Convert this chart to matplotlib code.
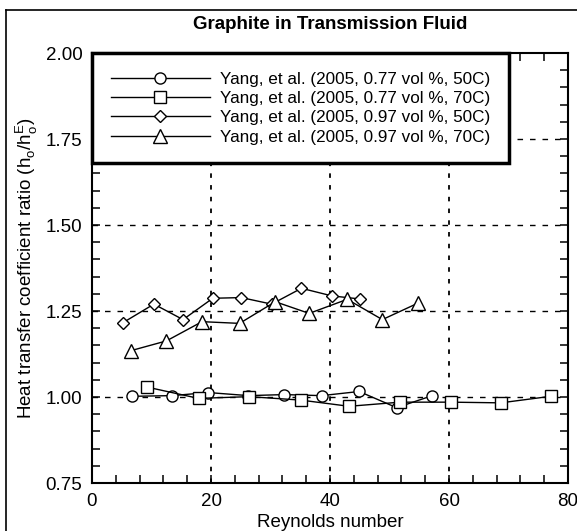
import numpy as np
import matplotlib.pyplot as plt
from matplotlib.lines import Line2D
from matplotlib.ticker import MultipleLocator

plt.rcParams['font.family'] = ['Liberation Sans', 'DejaVu Sans']

# Yang et al. (2005), graphite nanofluid data
re_050_50 = [6.7, 13.5, 19.5, 26.3, 32.3, 38.6, 44.9, 51.2, 57.2]
h_050_50 = [1.002, 1.004, 1.013, 1.004, 1.007, 1.004, 1.016, 0.969, 1.004]

re_077_70 = [9.2, 17.9, 26.4, 35.1, 43.2, 51.8, 60.3, 68.7, 77.1]
h_077_70 = [1.029, 0.996, 1.001, 0.991, 0.973, 0.985, 0.985, 0.983, 1.002]

re_097_50 = [5.2, 10.4, 15.3, 20.3, 25.1, 30.2, 35.2, 40.3, 45.0]
h_097_50 = [1.216, 1.270, 1.225, 1.287, 1.289, 1.270, 1.316, 1.294, 1.285]

re_097_70 = [6.6, 12.5, 18.5, 24.8, 30.8, 36.5, 42.9, 48.8, 54.8]
h_097_70 = [1.135, 1.163, 1.219, 1.214, 1.277, 1.243, 1.284, 1.225, 1.273]

labels = ["Yang, et al. (2005, 0.77 vol %, 50C)",
          "Yang, et al. (2005, 0.77 vol %, 70C)",
          "Yang, et al. (2005, 0.97 vol %, 50C)",
          "Yang, et al. (2005, 0.97 vol %, 70C)"]

fig = plt.figure(figsize=(5.77, 5.31), dpi=100)
ax = fig.add_axes([92/577, 1 - 483/531, 476/577, 430/531])

# frame around the whole figure
fig.add_artist(Line2D([6/577, 6/577], [0, 1 - 10/531], color='black', lw=1.2, transform=fig.transFigure))
fig.add_artist(Line2D([6/577, 1], [1 - 10/531, 1 - 10/531], color='black', lw=1.2, transform=fig.transFigure))

ax.set_xlim(0, 80)
ax.set_ylim(0.75, 2.00)
ax.xaxis.set_major_locator(MultipleLocator(20))
ax.xaxis.set_minor_locator(MultipleLocator(4))
ax.yaxis.set_major_locator(MultipleLocator(0.25))
ax.yaxis.set_minor_locator(MultipleLocator(0.05))
ax.yaxis.set_major_formatter(plt.FormatStrFormatter('%.2f'))
ax.tick_params(which='both', direction='in', top=True, right=True, length=6, width=1.1, labelsize=13.5, pad=7)
for s in ax.spines.values():
    s.set_linewidth(1.5)

for x in [20, 40, 60]:
    ax.axvline(x, color='black', lw=1.3, ls=(0, (2.5, 4)), zorder=1)
for y in [1.00, 1.25, 1.50, 1.75]:
    ax.axhline(y, color='black', lw=1.0, ls=(0, (4, 5)), zorder=1)

style = dict(color='black', lw=1.0, mfc='white', mec='black', mew=1.0, zorder=3)
l1, = ax.plot(re_050_50, h_050_50, marker='o', ms=8, **style)
l2, = ax.plot(re_077_70, h_077_70, marker='s', ms=8, **style)
l3, = ax.plot(re_097_50, h_097_50, marker='D', ms=6.5, **style)
l4, = ax.plot(re_097_70, h_097_70, marker='^', ms=9.5, **style)

leg = ax.legend([l1, l2, l3, l4], labels, loc='upper left', bbox_to_anchor=(0, 1),
                borderaxespad=0, fancybox=False, edgecolor='black', framealpha=1,
                fontsize=12.3, handlelength=5.8, handletextpad=0.6, labelspacing=0.25,
                borderpad=1.1)
leg.get_frame().set_linewidth(2.5)
leg.set_zorder(5)

ax.set_title("Graphite in Transmission Fluid", fontsize=13.5, fontweight='bold', pad=17)
ax.set_xlabel("Reynolds number", fontsize=13.5, labelpad=3)
ax.set_ylabel(r"Heat transfer coefficient ratio (h$_\mathregular{o}$/h$_\mathregular{o}^\mathregular{E}$)",
              fontsize=13.5, labelpad=4)

fig.savefig("out.png", dpi=100)
